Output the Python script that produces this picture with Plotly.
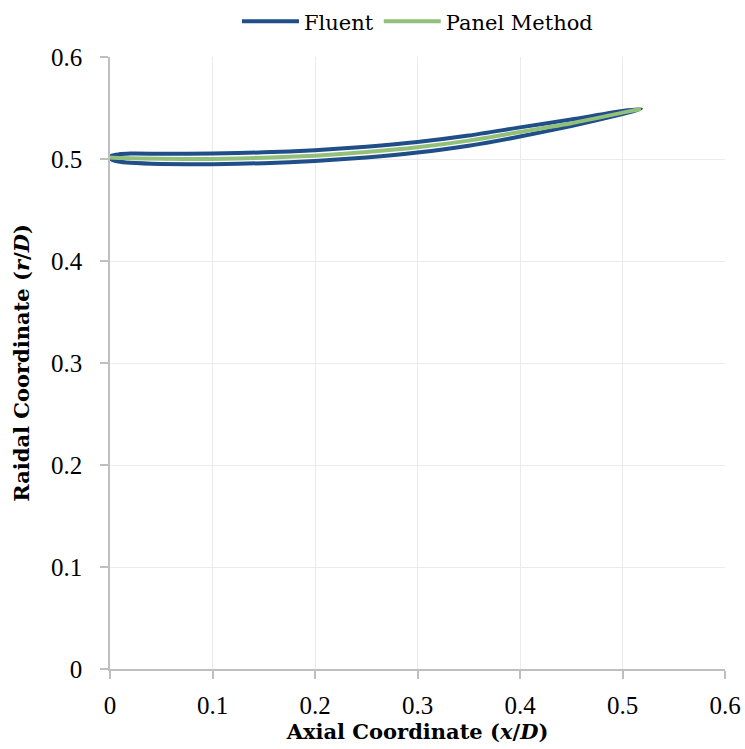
import plotly.graph_objects as go

# Fluent: closed section (upper surface TE->LE, then lower surface LE->TE)
x_upper = [0.518, 0.5, 0.45, 0.4, 0.35, 0.3, 0.25, 0.2, 0.15, 0.1, 0.05, 0.02, 0.008, 0.002, 0.0]
y_upper = [0.549, 0.547, 0.5387, 0.531, 0.523, 0.5167, 0.5121, 0.5086, 0.5065, 0.5053, 0.5052, 0.5053, 0.5045, 0.5033, 0.5015]
x_lower = [0.0, 0.002, 0.008, 0.02, 0.05, 0.1, 0.15, 0.2, 0.25, 0.3, 0.35, 0.4, 0.45, 0.5, 0.518]
y_lower = [0.5015, 0.4993, 0.4975, 0.4963, 0.4952, 0.4949, 0.4959, 0.498, 0.5015, 0.5063, 0.513, 0.522, 0.5323, 0.544, 0.549]

# Panel method: mean line
x_panel = [0.0, 0.01, 0.05, 0.1, 0.15, 0.2, 0.25, 0.3, 0.35, 0.4, 0.45, 0.5, 0.518]
y_panel = [0.5015, 0.501, 0.5002, 0.5001, 0.5012, 0.5033, 0.5068, 0.5115, 0.518, 0.5265, 0.535, 0.5455, 0.549]

tick_vals = [0, 0.1, 0.2, 0.3, 0.4, 0.5, 0.6]
tick_text = ["0", "0.1", "0.2", "0.3", "0.4", "0.5", "0.6"]

TEXT_FONT = "DejaVu Serif"
TICK_FONT = "Liberation Serif"

fig = go.Figure()
fig.add_trace(go.Scatter(
    x=x_upper + x_lower[1:], y=y_upper + y_lower[1:],
    mode="lines", name="Fluent",
    line=dict(color="#1f4e89", width=4, shape="spline", smoothing=0.6),
))
fig.add_trace(go.Scatter(
    x=x_panel, y=y_panel, mode="lines", name="Panel Method",
    line=dict(color="#92c07a", width=4, shape="spline", smoothing=0.6),
))

axis_common = dict(
    range=[0, 0.6], tickvals=tick_vals, ticktext=tick_text,
    showgrid=True, gridcolor="#ebebeb", gridwidth=1,
    showline=True, linecolor="#bfbfbf", linewidth=1.5,
    ticks="outside", ticklen=8, tickcolor="#bfbfbf", tickwidth=1.5,
    zeroline=False, automargin=False,
    tickfont=dict(family=TICK_FONT, size=25, color="#000000"),
)

fig.update_xaxes(
    **axis_common,
    ticklabelstandoff=5,
    title=dict(text="<b>Axial Coordinate (<i>x</i>/<i>D</i>)</b>",
               font=dict(family=TEXT_FONT, size=21, color="#000000"), standoff=6),
)
fig.update_yaxes(
    **axis_common,
    ticklabelstandoff=13,
    title=dict(text="<b>Raidal Coordinate (<i>r</i>/<i>D</i>)</b>",
               font=dict(family=TEXT_FONT, size=21, color="#000000"), standoff=16),
)

fig.update_layout(
    width=745, height=749,
    margin=dict(l=110, r=20, t=57, b=80),
    paper_bgcolor="white", plot_bgcolor="white",
    showlegend=True,
    legend=dict(orientation="h", x=0.5, xanchor="center",
                yref="container", y=0.971, yanchor="middle",
                font=dict(family=TEXT_FONT, size=21, color="#000000"),
                itemwidth=57, tracegroupgap=0),
)

fig.write_html("out.html")
